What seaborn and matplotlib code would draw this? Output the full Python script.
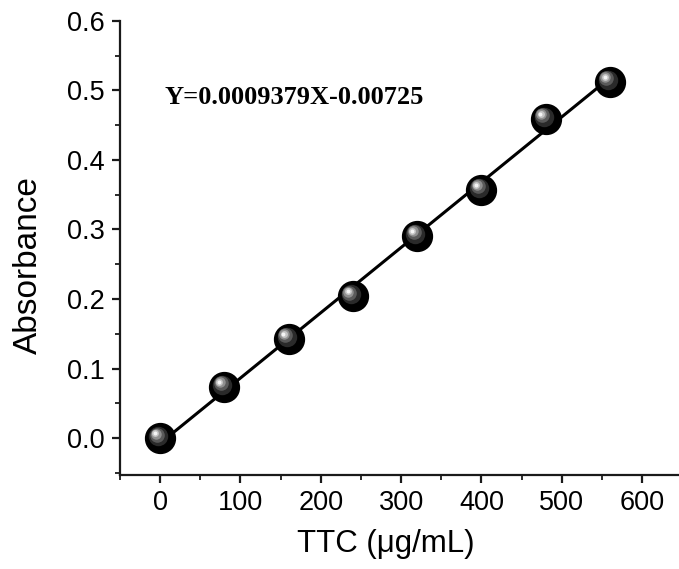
import numpy as np
import pandas as pd
import seaborn as sns
import matplotlib
matplotlib.use("Agg")
import matplotlib.pyplot as plt
from matplotlib.ticker import MultipleLocator
from matplotlib.transforms import ScaledTranslation

# data
ttc = [0, 80, 160, 240, 320, 400, 480, 560]
absorbance = [0.0, 0.074, 0.143, 0.204, 0.291, 0.357, 0.459, 0.512]
slope = 0.0009379
intercept = -0.00725
equation = "Y=0.0009379X-0.00725"
xlabel = "TTC (μg/mL)"
ylabel = "Absorbance"

sns.set_style("ticks")
plt.rcParams['font.family'] = ['Liberation Sans', 'DejaVu Sans']
plt.rcParams['text.color'] = 'black'
plt.rcParams['axes.labelcolor'] = 'black'

fig = plt.figure(figsize=(6.79, 5.69), dpi=100)
ax = fig.add_axes([0.1767, 0.165, 0.8233, 0.7986])

df = pd.DataFrame({"x": ttc, "y": absorbance})
fit = pd.DataFrame({"x": [min(ttc), max(ttc)]})
fit["y"] = slope * fit["x"] + intercept

sns.lineplot(data=fit, x="x", y="y", color="black", linewidth=2.2, ax=ax, zorder=2)

# spheres: black base + grey highlights offset up-left
ax.plot(df["x"], df["y"], 'o', ms=21.5, color="black", mec="black", zorder=3)
for dx, dy, ms, col in [(-0.02, 0.02, 14, "#2a2a2a"), (-0.035, 0.035, 10.5, "#5a5a5a"),
                        (-0.045, 0.045, 7.5, "#909090"), (-0.05, 0.05, 5, "#c4c4c4"),
                        (-0.052, 0.052, 2.8, "#f5f5f5")]:
    tr = ax.transData + ScaledTranslation(dx, dy, fig.dpi_scale_trans)
    ax.plot(df["x"], df["y"], 'o', ms=ms, color=col, mec="none", transform=tr, zorder=4)

ax.set_xlim(-50, 646)
ax.set_ylim(-0.053, 0.6)
ax.xaxis.set_minor_locator(MultipleLocator(50))
ax.yaxis.set_minor_locator(MultipleLocator(0.05))
ax.set_xticks([0, 100, 200, 300, 400, 500, 600])
ax.set_yticks([0.0, 0.1, 0.2, 0.3, 0.4, 0.5, 0.6])
ax.yaxis.set_major_formatter(matplotlib.ticker.FormatStrFormatter('%.1f'))

for s in ["top", "right"]:
    ax.spines[s].set_visible(False)
for s in ["left", "bottom"]:
    ax.spines[s].set_linewidth(1.6)
    ax.spines[s].set_color("#1a1a1a")

ax.tick_params(which="major", direction="out", length=6, width=1.6, labelsize=19.5,
               colors="#1a1a1a", labelcolor="black", pad=5)
ax.tick_params(which="minor", direction="out", length=3.5, width=1.3, colors="#1a1a1a")

ax.set_xlabel(xlabel, fontsize=22.5, color="black")
ax.set_ylabel(ylabel, fontsize=24, color="black")
ax.xaxis.set_label_coords(0.476, -0.119)
ax.yaxis.set_label_coords(-0.136, 0.4626)

ax.text(0.08, 0.83, equation, transform=ax.transAxes, fontsize=19, fontweight="bold",
        color="black", family=["Liberation Serif", "DejaVu Serif"], ha="left", va="center")

fig.savefig("out.png", dpi=100)
